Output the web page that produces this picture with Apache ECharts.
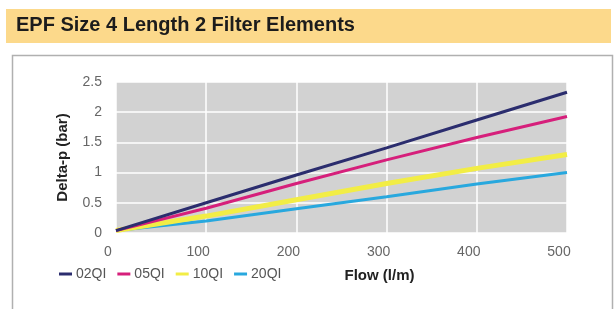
<!DOCTYPE html>
<html>
<head>
<meta charset="utf-8">
<script src="https://cdn.jsdelivr.net/npm/echarts@6/dist/echarts.min.js"></script>
<style>html,body{margin:0;padding:0;background:#fff;}#c{width:614px;height:309px;}</style>
</head>
<body>
<div id="c"></div>
<script>
var titleText = 'EPF Size 4 Length 2 Filter Elements';
var flow = [0, 100, 200, 300, 400, 500];
var s02QI = [0.04, 0.50, 0.96, 1.41, 1.87, 2.33];
var s05QI = [0.04, 0.41, 0.82, 1.21, 1.58, 1.93];
var s10QI = [0.04, 0.28, 0.55, 0.82, 1.07, 1.30];
var s20QI = [0.04, 0.20, 0.40, 0.60, 0.81, 1.00];
var seriesNames = ['02QI', '05QI', '10QI', '20QI'];
var xTicks = [0, 100, 200, 300, 400, 500];
var yTicks = [0, 0.5, 1, 1.5, 2, 2.5];

function pairs(ys){ return flow.map(function(x,i){ return [x, ys[i]]; }); }
var colors = ['#2b2d6e', '#d61f7b', '#f2ed45', '#28a8de'];
var widths = [3, 3, 5, 3];
var allData = [s02QI, s05QI, s10QI, s20QI];

var chart = echarts.init(document.getElementById('c'), null, {renderer:'canvas'});
var font = '"Liberation Sans", Arial, sans-serif';
chart.setOption({
  animation: false,
  backgroundColor: '#ffffff',
  grid: {left: 116, right: 47, top: 82, bottom: 76, show: true, backgroundColor: '#d2d2d2', borderWidth: 0},
  graphic: [
    {type: 'rect', left: 6, top: 9, shape: {width: 605, height: 34}, style: {fill: '#fcd98b'}, z: -1},
    {type: 'text', left: 16, top: 15, style: {text: titleText, font: 'bold 20px ' + font, fill: '#1c1c1c'}},
    {type: 'rect', left: 10, top: 53, shape: {width: 600, height: 300}, style: {fill: 'none', stroke: '#b0b0b0', lineWidth: 1.5}}
  ],
  legend: {
    left: 54, top: 262, itemWidth: 13, itemHeight: 3, itemGap: 11, icon: 'rect',
    textStyle: {fontFamily: font, fontSize: 14, color: '#555', padding: [0,0,0,-1]},
    data: seriesNames
  },
  xAxis: {
    type: 'value', min: 0, max: 500, interval: 100,
    name: 'Flow (l/m)', nameLocation: 'middle', nameGap: 35,
    nameTextStyle: {fontFamily: font, fontSize: 15, fontWeight: 'bold', color: '#222', padding: [0,0,0,76]},
    axisLine: {show: false}, axisTick: {show: false},
    axisLabel: {fontFamily: font, fontSize: 14, color: '#666', margin: 12, padding: [0,16,0,0],
      formatter: function(v){ return xTicks.indexOf(v) >= 0 ? String(v) : ''; }},
    splitLine: {show: true, lineStyle: {color: '#ffffff', width: 1.5}}
  },
  yAxis: {
    type: 'value', min: 0, max: 2.5, interval: 0.5,
    name: 'Delta-p (bar)', nameLocation: 'middle', nameGap: 46,
    nameTextStyle: {fontFamily: font, fontSize: 15, fontWeight: 'bold', color: '#222'},
    axisLine: {show: false}, axisTick: {show: false},
    axisLabel: {fontFamily: font, fontSize: 14, color: '#666', margin: 14,
      formatter: function(v){ return yTicks.indexOf(v) >= 0 ? String(v) : ''; }},
    splitLine: {show: true, lineStyle: {color: '#ffffff', width: 1.5}}
  },
  series: seriesNames.map(function(n, i){
    return {
      name: n, type: 'line', data: pairs(allData[i]), showSymbol: false, symbol: 'none',
      lineStyle: {color: colors[i], width: widths[i]}, itemStyle: {color: colors[i]}, z: 10 - i
    };
  })
});
</script>
</body>
</html>
